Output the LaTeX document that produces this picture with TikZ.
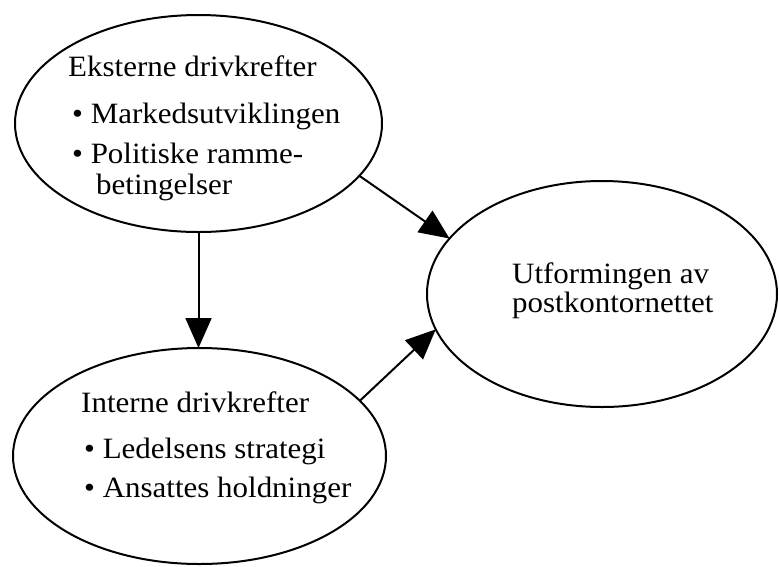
\documentclass[tikz,border=0pt]{standalone}
\usepackage{fontspec}
\setmainfont{Liberation Serif}[FakeStretch=1.05]
\usetikzlibrary{shapes.geometric,arrows.meta}
\begin{document}
\begin{tikzpicture}[x=1pt,y=-1pt,
  oval/.style={draw,ellipse,line width=2pt,inner sep=0pt,outer sep=0pt},
  txt/.style={anchor=base west,inner sep=0pt,font=\fontsize{29.5}{32}\selectfont},
  arr/.style={line width=2pt,-{Triangle[length=30pt,width=26pt]}}]
\useasboundingbox (0,0) rectangle (779,566);
\node[oval,minimum width=367pt,minimum height=217pt] (top) at (198.5,123.5) {};
\node[oval,minimum width=373pt,minimum height=216pt] (bot) at (199.5,456) {};
\node[oval,minimum width=350pt,minimum height=226pt] (right) at (602,294) {};
\node[txt] (t1) at (68,76) {Eksterne drivkrefter};
\node[txt] (t2) at (72,123) {• Markedsutviklingen};
\node[txt] (t3) at (72,163) {• Politiske ramme-};
\node[txt] (t4) at (96,194) {betingelser};
\node[txt] (b1) at (81,412) {Interne drivkrefter};
\node[txt] (b2) at (84,458) {• Ledelsens strategi};
\node[txt] (b3) at (84,497) {• Ansattes holdninger};
\node[txt] (r1) at (512,283) {Utformingen av};
\node[txt] (r2) at (512,312) {postkontornettet};
\draw[arr] (top.south) -- (top.south |- bot.north);
\draw[arr] (top.-18) -- (right.160);
\draw[arr] (bot.19) -- (right.-168);
\end{tikzpicture}
\end{document}
